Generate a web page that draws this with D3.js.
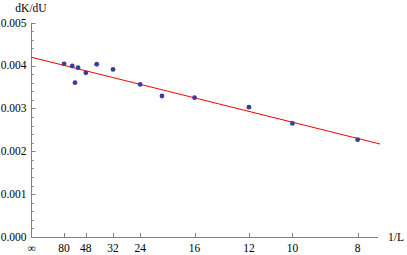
<!DOCTYPE html>
<html><head><meta charset="utf-8">
<script src="https://cdn.jsdelivr.net/npm/d3@7"></script>
<style>html,body{margin:0;padding:0;background:#fff;}svg{display:block;}
svg text{font-family:"Liberation Serif","Times New Roman",Times,serif;font-size:11.5px;fill:#000;}</style>
</head><body>
<svg id="c" width="407" height="255"></svg>
<script>
// Data
const sizesL = [80, 64, 60, 56, 48, 40, 32, 24, 20, 16, 12, 10, 8];
const dKdU   = [0.00404, 0.00399, 0.00360, 0.00395, 0.00383, 0.00403, 0.00391, 0.00356, 0.00329, 0.00325, 0.00303, 0.00265, 0.00227];
const xTickL = [Infinity, 80, 48, 32, 24, 16, 12, 10, 8];
const xTickLabels = ["\u221e", "80", "48", "32", "24", "16", "12", "10", "8"];
const yTicks = [0, 0.001, 0.002, 0.003, 0.004, 0.005];
const fitIntercept = 0.004193;
const fitSlope = -0.01515;
const fitRange = [0, 0.1336];

const svg = d3.select("#c");
const x = d3.scaleLinear().domain([0, 0.1328]).range([31.5, 378]);
const y = d3.scaleLinear().domain([0, 0.005]).range([237, 22.7]);
const axisColor = "#808080";

// y axis
const yAxis = svg.append("g");
yAxis.append("line").attr("x1", x(0)).attr("x2", x(0)).attr("y1", y(0)).attr("y2", y(0.005))
  .attr("stroke", axisColor).attr("stroke-width", 1);
const minorY = d3.range(0, 0.00501, 0.0002);
yAxis.selectAll("line.t").data(minorY).join("line")
  .attr("x1", x(0)).attr("x2", (d, i) => x(0) + (i % 5 === 0 ? 4 : 2.2))
  .attr("y1", d => Math.round(y(d)) + 0.5).attr("y2", d => Math.round(y(d)) + 0.5)
  .attr("stroke", axisColor).attr("stroke-width", 1);
yAxis.selectAll("text").data(yTicks).join("text")
  .attr("x", 26.5).attr("y", d => y(d) + 3.8)
  .attr("text-anchor", "end").text(d => d3.format(".3f")(d));

// x axis
const xAxis = svg.append("g");
xAxis.append("line").attr("x1", x(0)).attr("x2", x(0.1328)).attr("y1", y(0) + 0.5).attr("y2", y(0) + 0.5)
  .attr("stroke", axisColor).attr("stroke-width", 1);
const xt = xTickL.map(L => 1 / L);
xAxis.selectAll("line.t").data(xt.slice(1)).join("line")
  .attr("x1", d => Math.round(x(d)) + 0.5).attr("x2", d => Math.round(x(d)) + 0.5)
  .attr("y1", y(0)).attr("y2", y(0) - 4)
  .attr("stroke", axisColor).attr("stroke-width", 1);
xAxis.selectAll("text").data(xt).join("text")
  .attr("x", d => x(d)).attr("y", 252)
  .attr("text-anchor", "middle").text((d, i) => xTickLabels[i]);

// axis labels
svg.append("text").attr("x", 31).attr("y", 12).attr("text-anchor", "middle").text("dK/dU");
svg.append("text").attr("x", 388).attr("y", 241).attr("text-anchor", "start").text("1/L");

// fit line
svg.append("line")
  .attr("x1", x(fitRange[0])).attr("y1", y(fitIntercept + fitSlope * fitRange[0]))
  .attr("x2", x(fitRange[1])).attr("y2", y(fitIntercept + fitSlope * fitRange[1]))
  .attr("stroke", "#ff0000").attr("stroke-width", 1);

// points
svg.append("g").selectAll("circle").data(sizesL).join("circle")
  .attr("cx", L => x(1 / L)).attr("cy", (L, i) => y(dKdU[i]))
  .attr("r", 2.4).attr("fill", "#3d3d99");
</script>
</body></html>
